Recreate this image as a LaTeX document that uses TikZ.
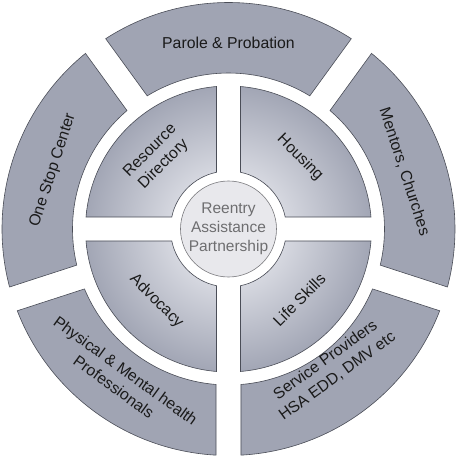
\documentclass[tikz,border=0pt]{standalone}
\usepackage{fontspec}
\setmainfont{Liberation Sans}
\usepackage{tikz}
\definecolor{segfill}{HTML}{A0A4B3}
\definecolor{segline}{HTML}{4A4D57}
\definecolor{quadlight}{HTML}{D6D8E0}
\definecolor{quaddark}{HTML}{A2A6B5}
\definecolor{hubfill}{HTML}{E8E8EC}
\definecolor{hubline}{HTML}{7A7A7E}
\definecolor{hubtext}{HTML}{6E6E70}
\definecolor{wheeltextcol}{HTML}{1A1A1A}
\newcommand{\wheeltext}{\fontsize{15.8}{20}\selectfont}
\newcommand{\hubfont}{\fontsize{15.5}{19}\selectfont}
% annular piece: start angle, end angle, inner r, outer r, half gap
\newcommand{\ringsector}[5]{({#1+asin(#5/#4)}:#4) arc[start angle={#1+asin(#5/#4)},end angle={#2-asin(#5/#4)},radius=#4] -- ({#2-asin(#5/#3)}:#3) arc[start angle={#2-asin(#5/#3)},end angle={#1+asin(#5/#3)},radius=#3] -- cycle}
\pgfdeclareradialshading{quadglow}{\pgfpoint{0bp}{0bp}}{color(0bp)=(quadlight); color(10bp)=(quadlight); color(25bp)=(quaddark); color(50bp)=(quaddark)}

\begin{document}
\begin{tikzpicture}[x=1pt,y=1pt,font=\wheeltext]
\tikzset{
  outerseg/.style={draw=segline,fill=segfill,line width=0.6pt},
  quadedge/.style={draw=segline,line width=0.6pt},
  ringlabel/.style={text=wheeltextcol,align=center,font=\wheeltext}
}
\useasboundingbox (-228.5,-229) rectangle (228.5,229);

% outer ring
\path[outerseg] \ringsector{54}{126}{156}{226.5}{12.5};
\path[outerseg] \ringsector{126}{198}{156}{226.5}{12.5};
\path[outerseg] \ringsector{198}{270}{156}{226.5}{12.5};
\path[outerseg] \ringsector{270}{342}{156}{226.5}{12.5};
\path[outerseg] \ringsector{-18}{54}{156}{226.5}{12.5};

% inner quadrants
\foreach \a in {0,90,180,270}{
  \begin{scope}
    \clip \ringsector{\a}{\a+90}{58}{143}{12};
    \shade[shading=quadglow] (0,0) circle (143);
  \end{scope}
  \path[quadedge] \ringsector{\a}{\a+90}{58}{143}{12};
}

% centre
\node[circle,draw=hubline,fill=hubfill,line width=0.6pt,minimum size=96pt,inner sep=0pt,text=hubtext,align=center,font=\hubfont] (hub) at (0,0) {Reentry\\Assistance\\Partnership};

\node[ringlabel,font=\fontsize{15.8}{19}\selectfont,rotate=45] (resource) at (135:101) {Resource\\Directory};
\node[ringlabel,rotate=-45] (housing) at (45:101) {Housing};
\node[ringlabel,rotate=-45] (advocacy) at (225:102) {Advocacy};
\node[ringlabel,rotate=45] (lifeskills) at (315:100) {Life Skills};

\node[ringlabel] (parole) at (90:186) {Parole \& Probation};
\node[ringlabel,rotate=-72] (mentors) at (18:185) {Mentors, Churches};
\node[ringlabel,rotate=36] (service) at (306.5:173) {Service Providers\\HSA EDD, DMV etc};
\node[ringlabel,rotate=-36] (physical) at (234:185) {Physical \& Mental health\\Professionals};
\node[ringlabel,rotate=72] (onestop) at (161.5:185) {One Stop Center};
\end{tikzpicture}
\end{document}
